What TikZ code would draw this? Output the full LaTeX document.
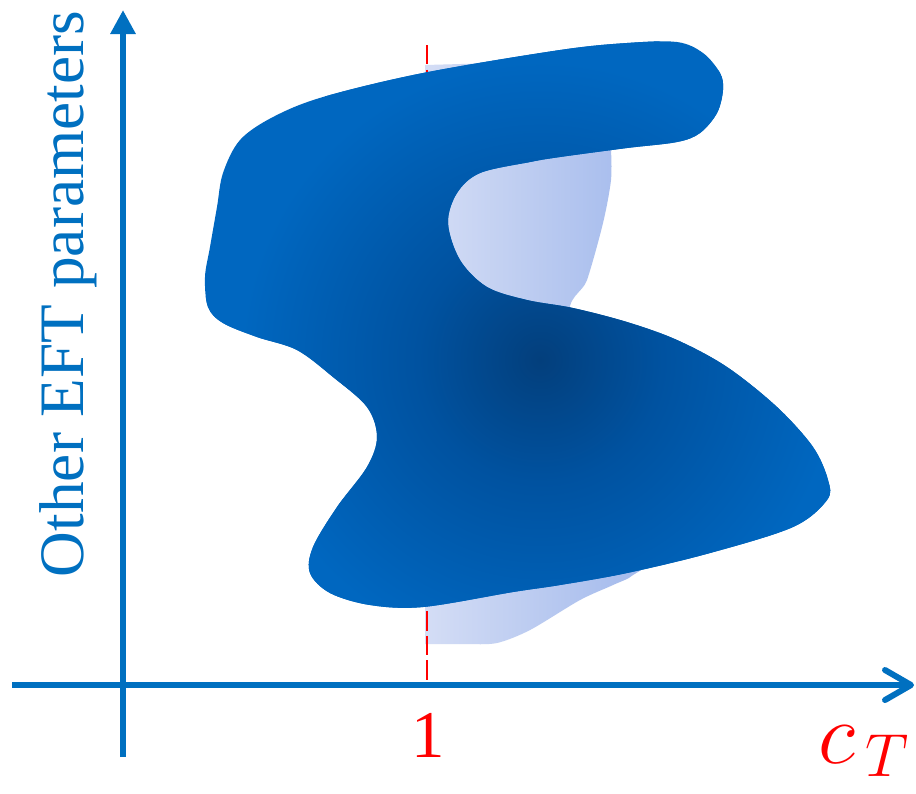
\documentclass[tikz,border=0pt]{standalone}
\usepackage{fontspec}
\setmainfont{Liberation Serif}
\usetikzlibrary{arrows.meta}

\definecolor{axisblue}{RGB}{0,112,192}
\definecolor{blobedge}{RGB}{0,103,192}
\definecolor{blobmid}{RGB}{0,82,160}
\definecolor{blobcore}{RGB}{3,63,124}
\definecolor{shadowleft}{RGB}{212,221,245}
\definecolor{shadowright}{RGB}{162,185,236}

\pgfdeclareradialshading{blobshade}{\pgfpoint{0bp}{0bp}}{%
  color(0bp)=(blobcore); color(9bp)=(blobmid); color(22bp)=(blobedge); color(50bp)=(blobedge)}

\tikzset{
  axis/.style={axisblue, line width=1.7pt},
  cutline/.style={red, line width=0.6pt, dash pattern=on 5.5pt off 1.5pt},
  axislabel/.style={text=axisblue, font=\fontsize{18}{20}\selectfont, inner sep=0pt},
  ticklabel/.style={text=red, font=\fontsize{19}{21}\selectfont, inner sep=0pt}
}

\begin{document}
\begin{tikzpicture}[x=0.01cm, y=-0.01cm]
\def\cutX{427}
\def\axisY{685}

    \fill[white] (0,0) rectangle (916,793);
    \useasboundingbox (0,0) rectangle (916,793);

    \coordinate (O) at (123,\axisY);
    \coordinate (Ybot) at (123,757);
    \coordinate (Ytop) at (123,10);
    \coordinate (Xleft) at (12,\axisY);
    \coordinate (Xright) at (914,\axisY);
    \coordinate (Ctop) at (\cutX,45);
    \coordinate (Cbot) at (\cutX,\axisY);

    %Region hidden behind the blob
    \shade[left color=shadowleft, right color=shadowright]
      (425,65) -- (605,60) -- plot[smooth] coordinates {(611,150) (611,180) (603,223) (587,280) (570,320)
      (620,450) (645,555) (633,575) (613,585) (580,600) (530,630) (497,643) (470,644)} -- (425,644) -- cycle;

    \draw[cutline] (Ctop) -- (Cbot);

    %Allowed region
    \def\blob{plot[smooth cycle, tension=0.55] coordinates {
      (240,140) (273,117) (323,97) (423,73) (560,50) (627,43) (677,42) (703,53) (720,73) (723,90)
      (717,113) (700,133) (677,142) (627,148) (560,157) (530,162) (480,173) (457,193) (448,223)
      (460,260) (487,287) (527,300) (573,308) (627,322) (677,340) (727,367) (777,407) (813,447)
      (828,480) (827,500) (793,527) (710,553) (627,573) (560,585) (513,592) (423,607) (370,605)
      (330,593) (310,573) (313,547) (337,507) (367,467) (377,437) (367,407) (333,377) (297,350)
      (257,337) (223,323) (208,307) (205,277) (210,247) (217,207) (223,173)}}
    \begin{scope}
      \clip \blob;
      \fill[blobedge] (0,0) rectangle (916,793);
      \shade[shading=blobshade] (540,360) circle [radius=340];
    \end{scope}

    %Axes
    \draw[axis, -{Triangle[length=2.4mm, width=2.4mm]}] (Ybot) -- (Ytop);
    \draw[axis, -{Straight Barb[length=2.6mm, width=3mm, round]}] (Xleft) -- (Xright);

    %Labels
    \node[axislabel, rotate=90, anchor=base] (ylabel) at (83,294) {Other EFT parameters};
    \node[ticklabel, anchor=base] (one) at (428,757) {1};
    \node[text=red, anchor=base west, inner sep=0pt, font=\fontsize{24}{27}\selectfont] (xlabel) at (818,763) {$c_{\,T}$};
\end{tikzpicture}
\end{document}
